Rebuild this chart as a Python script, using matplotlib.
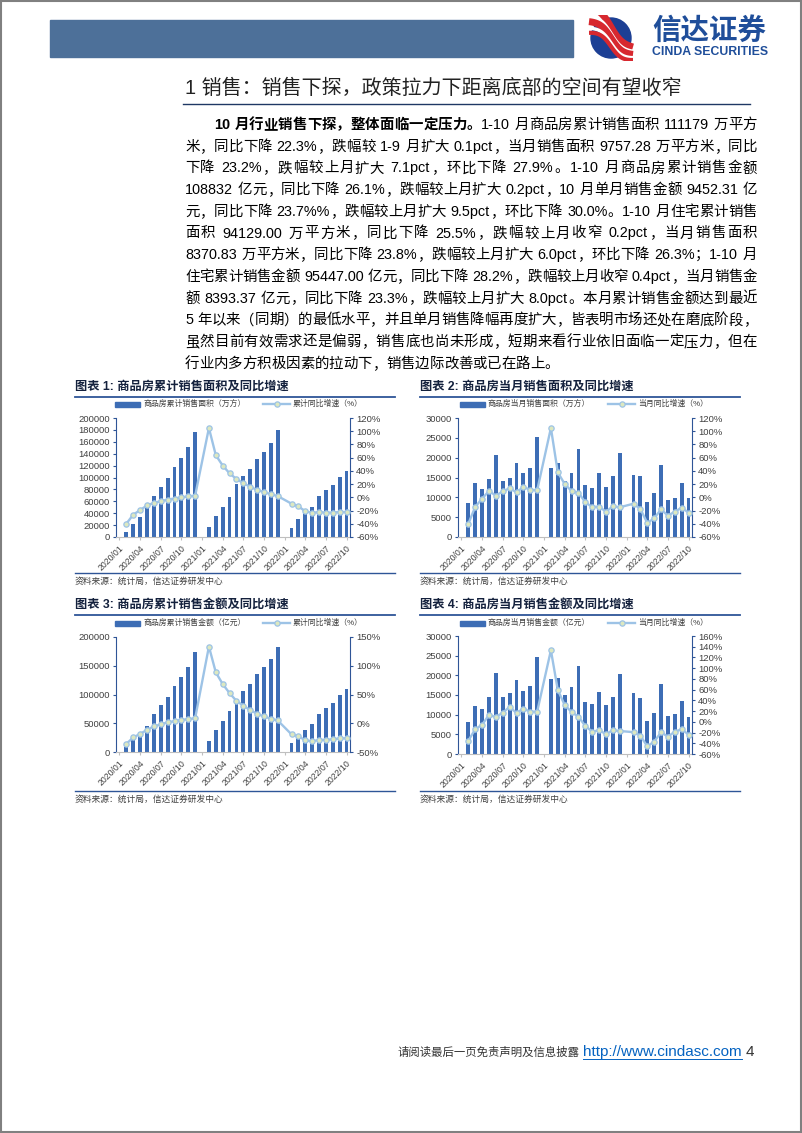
import re
import numpy as np
import matplotlib
matplotlib.use('Agg')
import matplotlib.pyplot as plt
from matplotlib.lines import Line2D
from matplotlib.patches import Rectangle, Circle
from matplotlib.ticker import FuncFormatter

plt.rcParams['font.family'] = ['Liberation Sans', 'Noto Sans CJK SC', 'DejaVu Sans']

nan = np.nan

# ---- data (2020/01 .. 2022/10, January merged into February) ----
tick_labels = ['2020/01', '2020/04', '2020/07', '2020/10', '2021/01', '2021/04',
               '2021/07', '2021/10', '2022/01', '2022/04', '2022/07', '2022/10']

area_cum = [nan, 8475, 21978, 33973, 48703, 69404, 83306, 98486, 117073, 132495, 150964, 176086,
            nan, 17363, 36007, 49756, 66428, 88635, 101848, 114193, 130332, 143041, 158339, 179433,
            nan, 15703, 31046, 39768, 50738, 68923, 78178, 87890, 101422, 111179]
area_cum_yoy = [nan, -39.9, -26.3, -19.3, -12.3, -8.4, -5.8, -3.3, -1.8, 0.0, 1.3, 2.6,
                nan, 104.9, 63.8, 48.1, 36.3, 27.7, 21.5, 15.9, 11.3, 7.9, 4.8, 1.9,
                nan, -9.6, -13.8, -20.9, -23.6, -22.2, -23.1, -23.0, -22.2, -22.3]

area_m = [nan, 8475, 13500, 12000, 14700, 20700, 14200, 14800, 18570, 16200, 17450, 25200,
          nan, 17363, 18644, 14100, 16050, 22207, 13213, 12345, 16139, 12709, 15298, 21094,
          nan, 15703, 15343, 8722, 10970, 18185, 9255, 9712, 13532, 9757]
area_m_yoy = [nan, -39.9, -14.6, -2.0, 9.6, 2.5, 9.1, 13.6, 7.6, 15.6, 11.6, 10.6,
              nan, 104.9, 37.8, 20.2, 9.6, 7.1, -7.6, -14.6, -14.1, -21.7, -13.6, -15.1,
              nan, -9.6, -17.6, -38.8, -31.8, -18.2, -27.7, -21.7, -15.6, -23.2]

amt_cum = [nan, 8203, 20365, 31700, 45200, 66900, 81100, 96500, 115600, 130700, 148400, 173613,
           nan, 19151, 38378, 53498, 70534, 92931, 106152, 118976, 134795, 147185, 161709, 181930,
           nan, 15459, 29655, 37935, 48337, 66072, 75763, 85870, 99380, 108832]
amt_cum_yoy = [nan, -35.9, -24.7, -18.6, -11.6, -5.4, -2.1, 1.6, 3.7, 5.8, 7.2, 8.7,
               nan, 133.4, 88.5, 68.2, 52.4, 38.9, 30.7, 22.8, 16.6, 11.8, 8.0, 4.8,
               nan, -19.3, -22.7, -29.5, -31.5, -28.9, -28.8, -27.9, -26.3, -26.1]

amt_m = [nan, 8203, 12160, 11400, 14400, 20600, 14400, 15400, 18700, 16000, 17200, 24600,
         nan, 19151, 19227, 15120, 17036, 22397, 13221, 12824, 15819, 12390, 14524, 20221,
         nan, 15459, 14196, 8280, 10402, 17735, 9691, 10107, 13510, 9452]
amt_m_yoy = [nan, -35.1, -14.0, -5.3, 12.7, 9.0, 17.1, 27.7, 16.5, 24.5, 19.0, 19.0,
             nan, 133.4, 59.3, 31.4, 18.3, 9.6, -7.8, -18.3, -15.8, -22.7, -15.8, -17.1,
             nan, -19.3, -25.8, -45.7, -37.0, -19.6, -27.7, -18.3, -14.0, -23.7]

body_lines = [
    [('10 月行业销售下探，整体面临一定压力。', True), ('1-10 月商品房累计销售面积 111179 万平方', False)],
    [('米，同比下降 22.3%，跌幅较 1-9 月扩大 0.1pct，当月销售面积 9757.28 万平方米，同比', False)],
    [('下降 23.2%，跌幅较上月扩大 7.1pct，环比下降 27.9%。1-10 月商品房累计销售金额', False)],
    [('108832 亿元，同比下降 26.1%，跌幅较上月扩大 0.2pct，10 月单月销售金额 9452.31 亿', False)],
    [('元，同比下降 23.7%%，跌幅较上月扩大 9.5pct，环比下降 30.0%。1-10 月住宅累计销售', False)],
    [('面积 94129.00 万平方米，同比下降 25.5%，跌幅较上月收窄 0.2pct，当月销售面积', False)],
    [('8370.83 万平方米，同比下降 23.8%，跌幅较上月扩大 6.0pct，环比下降 26.3%；1-10 月', False)],
    [('住宅累计销售金额 95447.00 亿元，同比下降 28.2%，跌幅较上月收窄 0.4pct，当月销售金', False)],
    [('额 8393.37 亿元，同比下降 23.3%，跌幅较上月扩大 8.0pct。本月累计销售金额达到最近', False)],
    [('5 年以来（同期）的最低水平，并且单月销售降幅再度扩大，皆表明市场还处在磨底阶段，', False)],
    [('虽然目前有效需求还是偏弱，销售底也尚未形成，短期来看行业依旧面临一定压力，但在', False)],
    [('行业内多方积极因素的拉动下，销售边际改善或已在路上。', False)],
]

# ---- page setup ----
W, H = 802, 1133
fig = plt.figure(figsize=(W / 100, H / 100), dpi=100)
fig.patch.set_facecolor('white')


def fx(x):
    return x / W


def fy(y):
    return 1 - y / H


def hline(x0, x1, y, color, lw):
    fig.add_artist(Line2D([fx(x0), fx(x1)], [fy(y), fy(y)], color=color, lw=lw,
                          transform=fig.transFigure))


BAR = '#3D6DB5'
LINE = '#9DC3E6'
MFC = '#DCE8C0'
SPINE = '#2F5597'
NAVY = '#1F3864'

# page frame
fig.add_artist(Rectangle((0.001, 0.001), 0.998, 0.998, fill=False, ec='#808080', lw=1.5,
                         transform=fig.transFigure))

# header bar
fig.add_artist(Rectangle((fx(50), fy(57)), (573 - 50) / W, 37 / H, color='#4D7099',
                         transform=fig.transFigure))

# logo
lax = fig.add_axes([fx(588), fy(61), 46 / W, 46 / H])
lax.set_xlim(-1.15, 1.15)
lax.set_ylim(-1.15, 1.15)
lax.axis('off')
lax.add_patch(Circle((0, 0), 1, color='#1C3F94'))
tt = np.linspace(-1.1, 1.1, 60)
for off, c, lw in [(0.55, '#D7282F', 5), (0.2, 'white', 3), (0.0, '#D7282F', 5),
                   (-0.25, 'white', 2.5), (-0.42, '#D7282F', 3)]:
    lax.plot(tt, -0.85 * np.tanh(1.8 * tt) + off * (1 - 0.3 * tt), color=c, lw=lw,
             solid_capstyle='butt')
fig.text(fx(652), fy(31), '信达证券', fontsize=20.5, fontweight='bold', color='#1F4E9A',
         va='center', ha='left')
fig.text(fx(652), fy(52), 'CINDA SECURITIES', fontsize=8.8, fontweight='bold', color='#1F4E9A',
         va='center', ha='left')

# section title
fig.text(fx(185), fy(88), '1 销售：销售下探，政策拉力下距离底部的空间有望收窄', fontsize=14.4,
         color='#222222', va='center', ha='left')
hline(183, 750, 104, NAVY, 1.0)

# ---- body text, justified ----
BODY_FS = 10.4
renderer = fig.canvas.get_renderer()
space_w = 0.3 * BODY_FS * 100 / 72


def put_line(segs, x0, x1, y, justify=True):
    items = []
    for s, bold in segs:
        for tk in re.findall(r' |[A-Za-z0-9.%\-]+|.', s):
            if tk == ' ':
                items.append((None, space_w))
            else:
                t = fig.text(0, 0, tk, fontsize=BODY_FS, color='black',
                             fontweight='bold' if bold else 'normal', va='baseline', ha='left')
                items.append((t, t.get_window_extent(renderer).width))
    total = sum(w for _, w in items)
    extra = (x1 - x0 - total) / (len(items) - 1) if justify and len(items) > 1 else 0
    x = x0
    for t, w in items:
        if t is not None:
            t.set_position((fx(x), fy(y)))
        x += w + extra


for i, segs in enumerate(body_lines):
    x0 = 214 if i == 0 else 185
    put_line(segs, x0, 757, 129 + i * 21.7, justify=(i < len(body_lines) - 1))


# ---- charts ----
def draw_chart(left, right, top, bottom, bars, rates, lmax, lstep, rmin, rmax, rstep):
    ax = fig.add_axes([fx(left), fy(bottom), (right - left) / W, (bottom - top) / H])
    x = np.arange(len(bars))
    ax.bar(x, bars, width=0.55, color=BAR, zorder=2)
    ax.set_xlim(-0.5, len(bars) - 0.5)
    ax.set_ylim(0, lmax)
    ax.set_yticks(np.arange(0, lmax + 1, lstep))
    ax.yaxis.set_major_formatter(FuncFormatter(lambda v, _: f'{v:.0f}'))
    ax.set_xticks(np.arange(0, len(bars), 3))
    ax.set_xticklabels(tick_labels, rotation=45, ha='right', rotation_mode='anchor')
    for s in ['top', 'right']:
        ax.spines[s].set_visible(False)
    ax.spines['left'].set_color(SPINE)
    ax.spines['bottom'].set_color('#BFBFBF')
    ax.tick_params(axis='y', colors=SPINE, labelcolor='#404040', labelsize=6.8, length=2.5,
                   width=0.8, pad=2)
    ax.tick_params(axis='x', colors='#BFBFBF', labelcolor='#404040', labelsize=6.3, length=2.5,
                   pad=2)

    ax2 = ax.twinx()
    r = np.array(rates, dtype=float)
    ok = ~np.isnan(r)
    ax2.plot(x[ok], r[ok], color=LINE, lw=1.7, marker='o', ms=3.8, mfc=MFC, mec=LINE, mew=0.9,
             zorder=3)
    ax2.set_ylim(rmin, rmax)
    ax2.set_yticks(np.arange(rmin, rmax + 1, rstep))
    ax2.yaxis.set_major_formatter(FuncFormatter(lambda v, _: f'{v:.0f}%'))
    for s in ['top', 'left', 'bottom']:
        ax2.spines[s].set_visible(False)
    ax2.spines['right'].set_color(SPINE)
    ax2.tick_params(axis='y', colors=SPINE, labelcolor='#404040', labelsize=6.8, length=2.5,
                    width=0.8, pad=2)
    return ax


def chart_frame(x0, x1, title, ty, leg_y, bar_label, line_label, foot_y, src_y):
    fig.text(fx(x0), fy(ty), title, fontsize=8.8, fontweight='bold', color='#14213D',
             va='center', ha='left')
    hline(x0, x1, ty + 10, '#2E5597', 1.3)
    lx = x0 + 40
    fig.add_artist(Rectangle((fx(lx), fy(leg_y + 2.5)), 25 / W, 5 / H, color=BAR,
                             transform=fig.transFigure))
    fig.text(fx(lx + 28), fy(leg_y), bar_label, fontsize=5.7, color='#404040',
             va='center', ha='left')
    fig.add_artist(Line2D([fx(lx + 148), fx(lx + 175)], [fy(leg_y), fy(leg_y)], color=LINE,
                          lw=1.7, transform=fig.transFigure))
    fig.add_artist(Line2D([fx(lx + 161.5)], [fy(leg_y)], marker='o', ms=3.8, mfc=MFC, mec=LINE,
                          mew=0.9, transform=fig.transFigure))
    fig.text(fx(lx + 178), fy(leg_y), line_label, fontsize=5.7, color='#404040',
             va='center', ha='left')
    hline(x0, x1, foot_y, '#2E5597', 1.0)
    fig.text(fx(x0), fy(src_y), '资料来源：统计局，信达证券研发中心', fontsize=6.3,
             color='#404040', va='center', ha='left', style='italic')


chart_frame(75, 395, '图表 1: 商品房累计销售面积及同比增速', 387, 404,
            '商品房累计销售面积（万方）', '累计同比增速（%）', 573, 581)
draw_chart(116, 350, 418, 537, area_cum, area_cum_yoy, 200000, 20000, -60, 120, 20)

chart_frame(420, 740, '图表 2: 商品房当月销售面积及同比增速', 387, 404,
            '商品房当月销售面积（万方）', '当月同比增速（%）', 573, 581)
draw_chart(458, 692, 418, 537, area_m, area_m_yoy, 30000, 5000, -60, 120, 20)

chart_frame(75, 395, '图表 3: 商品房累计销售金额及同比增速', 605, 623,
            '商品房累计销售金额（亿元）', '累计同比增速（%）', 791, 799)
draw_chart(116, 350, 637, 752, amt_cum, amt_cum_yoy, 200000, 50000, -50, 150, 50)

chart_frame(420, 740, '图表 4: 商品房当月销售金额及同比增速', 605, 623,
            '商品房当月销售金额（亿元）', '当月同比增速（%）', 791, 799)
draw_chart(458, 692, 636, 754, amt_m, amt_m_yoy, 30000, 5000, -60, 160, 20)

# ---- footer ----
fig.text(fx(398), fy(1052), '请阅读最后一页免责声明及信息披露', fontsize=8.2, color='#333333',
         va='center', ha='left')
url = fig.text(fx(583), fy(1052), 'http://www.cindasc.com', fontsize=11, color='#0563C1',
               va='center', ha='left')
uw = url.get_window_extent(renderer).width
hline(583, 583 + uw, 1059, '#0563C1', 0.7)
fig.text(fx(583 + uw + 4), fy(1052), '4', fontsize=11, color='#333333', va='center', ha='left')

fig.savefig('out.png', dpi=100)
